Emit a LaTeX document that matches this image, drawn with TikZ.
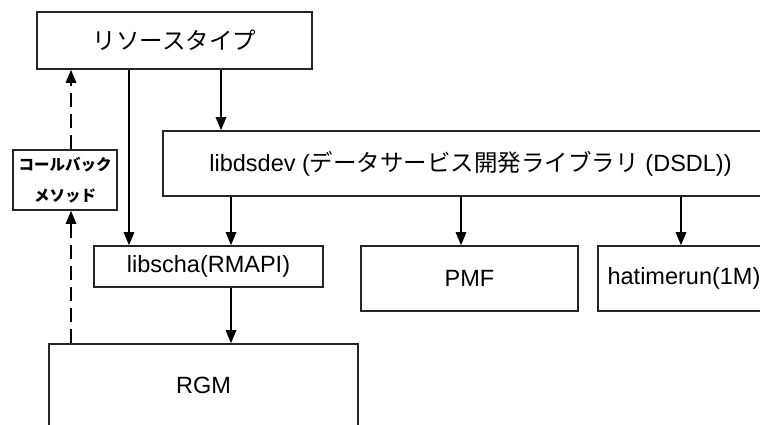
\documentclass[tikz,border=0pt]{standalone}
\usepackage{fontspec}
\setmainfont{Liberation Sans}
\newfontfamily\cjk{Noto Sans CJK JP}
\usetikzlibrary{arrows.meta}
\begin{document}
\begin{tikzpicture}[x=1pt,y=-1pt,
  box/.style={draw=black!85, line width=1.6pt, inner sep=0pt, font=\fontsize{23.5}{28}\selectfont},
  arr/.style={line width=1.5pt, -{Triangle[length=13pt,width=10.5pt]}},
  darr/.style={line width=1.5pt, dash pattern=on 14pt off 7pt, -{Triangle[length=13pt,width=10.5pt]}}]
\useasboundingbox (0,0) rectangle (760,424);
\clip (0,0) rectangle (760,424);
\fill[white] (0,0) rectangle (760,424);

\node[box, minimum width=275pt, minimum height=57pt] (top) at (174.5,40.5) {\cjk リソースタイプ};
\node[box, minimum width=615pt, minimum height=65pt] (dsdev) at (470.5,163.5) {libdsdev ({\cjk データサービス開発ライブラリ} (DSDL))};
\node[box, minimum width=229pt, minimum height=41pt] (scha) at (208.5,266.5) {libscha(RMAPI)};
\node[box, minimum width=217pt, minimum height=65pt] (pmf) at (469.5,278.5) {PMF};
\node[box, minimum width=172pt, minimum height=65pt] (hati) at (684,278.5) {hatimerun(1M)};
\node[box, minimum width=309pt, minimum height=82pt] (rgm) at (203.5,385) {RGM};
\node[box, minimum width=104pt, minimum height=60pt, align=center, font=\fontsize{15.5}{31}\selectfont\cjk\bfseries] (cb) at (65,180) {コールバック\\メソッド};

\coordinate (xa) at (129,0);
\coordinate (xb) at (221,0);
\coordinate (xc) at (231,0);
\coordinate (xd) at (461,0);
\coordinate (xe) at (681,0);
\coordinate (xf) at (71,0);

\draw[arr] (xa |- top.south) -- (xa |- scha.north);
\draw[arr] (xb |- top.south) -- (xb |- dsdev.north);
\draw[arr] (xc |- dsdev.south) -- (xc |- scha.north);
\draw[arr] (xd |- dsdev.south) -- (xd |- pmf.north);
\draw[arr] (xe |- dsdev.south) -- (xe |- hati.north);
\draw[arr] (xc |- scha.south) -- (xc |- rgm.north);
\draw[darr] (xf |- rgm.north) -- (xf |- cb.south);
\draw[darr] (xf |- cb.north) -- (xf |- top.south);
\end{tikzpicture}
\end{document}
